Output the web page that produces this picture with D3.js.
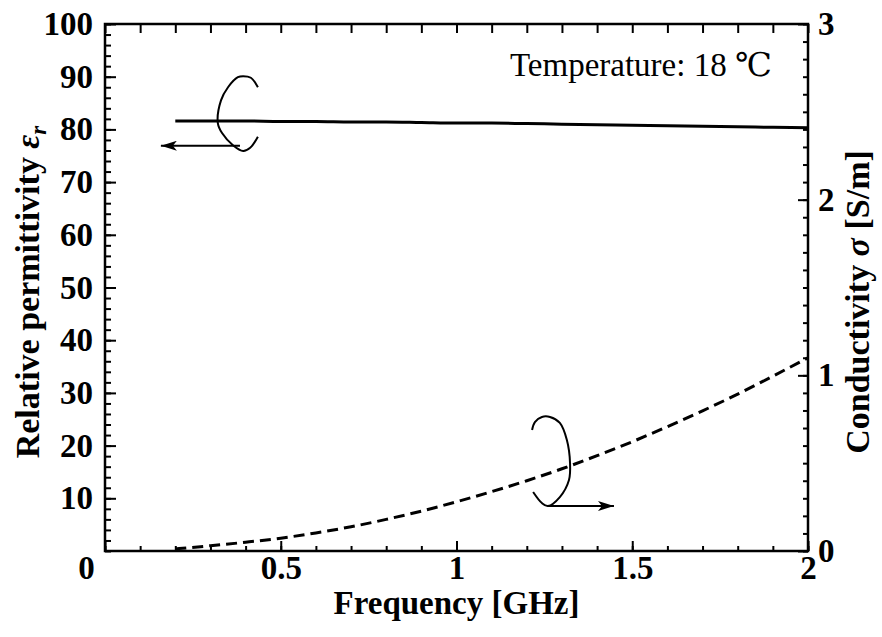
<!DOCTYPE html>
<html>
<head>
<meta charset="utf-8">
<script src="https://cdn.jsdelivr.net/npm/d3@7"></script>
<style>
  body { margin: 0; background: #fff; }
  svg text { font-family: "Liberation Serif", "DejaVu Serif", "Times New Roman", Times, serif !important; }
</style>
</head>
<body>
<div id="chart"></div>
<script>
// data
var freq = [0.2, 0.3, 0.4, 0.5, 0.6, 0.7, 0.8, 0.9, 1.0, 1.1, 1.2, 1.3, 1.4, 1.5, 1.6, 1.7, 1.8, 1.9, 2.0];
var permittivity = [81.6, 81.6, 81.6, 81.5, 81.5, 81.4, 81.4, 81.3, 81.2, 81.2, 81.1, 81.0, 80.9, 80.8, 80.7, 80.6, 80.5, 80.4, 80.3];
var conductivity = [0.012, 0.030, 0.050, 0.073, 0.103, 0.138, 0.180, 0.227, 0.280, 0.338, 0.400, 0.468, 0.543, 0.622, 0.708, 0.798, 0.893, 0.995, 1.10];

var xMajor = [0, 0.5, 1, 1.5, 2];
var xMinor = d3.range(0, 2.01, 0.1);
var leftMajor = [10, 20, 30, 40, 50, 60, 70, 80, 90, 100];
var leftMinor = d3.range(0, 100.1, 2);
var rightMajor = [0, 1, 2, 3];
var rightMinor = d3.range(0, 3.01, 0.1);

// curly arrows pointing at each axis (data units)
var arcEps = [[0.435, 88.0], [0.415, 89.8], [0.393, 90.1], [0.378, 89.9], [0.350, 88.0], [0.330, 85.5],
              [0.321, 81.2], [0.333, 79.3], [0.364, 77.0], [0.393, 75.9], [0.413, 76.5], [0.435, 78.6]];
var arrowEps = [[0.384, 76.9], [0.159, 76.9]];
var arcSig = [[1.215, 0.689], [1.223, 0.734], [1.243, 0.763], [1.266, 0.763], [1.294, 0.729], [1.314, 0.632],
              [1.323, 0.501], [1.320, 0.404], [1.294, 0.307], [1.260, 0.256], [1.243, 0.273], [1.218, 0.336]];
var arrowSig = [[1.260, 0.256], [1.448, 0.256]];

var FONT = '"Liberation Serif", "DejaVu Serif", "Times New Roman", Times, serif';
var W = 882, H = 637;
var margin = {top: 24, right: 74, bottom: 86, left: 105};

var svg = d3.select("#chart").append("svg")
    .attr("width", W)
    .attr("height", H)
    .attr("font-family", FONT);

var x = d3.scaleLinear().domain([0, 2]).range([margin.left, W - margin.right]);
var yL = d3.scaleLinear().domain([0, 100]).range([H - margin.bottom, margin.top]);
var yR = d3.scaleLinear().domain([0, 3]).range([H - margin.bottom, margin.top]);

var x0 = margin.left, x1 = W - margin.right, y0 = H - margin.bottom, y1 = margin.top;

svg.append("defs").append("marker")
    .attr("id", "head")
    .attr("viewBox", "0 0 16 10")
    .attr("refX", 16).attr("refY", 5)
    .attr("markerWidth", 16).attr("markerHeight", 10)
    .attr("markerUnits", "userSpaceOnUse")
    .attr("orient", "auto")
  .append("path")
    .attr("d", "M0,0 L16,5 L0,10 L4,5 Z")
    .attr("fill", "#000");

function styleAxis(g, fs) {
  g.attr("font-family", FONT);
  g.select(".domain").remove();
  g.selectAll(".tick line").attr("stroke", "#000").attr("stroke-width", 2);
  g.selectAll(".tick text")
    .attr("fill", "#000")
    .style("font-family", FONT)
    .style("font-size", fs + "px")
    .style("font-weight", "bold");
}

// bottom axis
svg.append("g").attr("transform", "translate(0," + y0 + ")")
  .call(d3.axisBottom(x).tickValues(xMinor).tickSize(-5).tickFormat(""))
  .call(styleAxis, 33);
var gx = svg.append("g").attr("transform", "translate(0," + y0 + ")")
  .call(d3.axisBottom(x).tickValues(xMajor).tickSize(-10).tickPadding(5).tickFormat(function(d) { return String(d); }))
  .call(styleAxis, 33);
gx.selectAll(".tick text").filter(function(d) { return d === 0; }).attr("x", -19);

// top axis
svg.append("g").attr("transform", "translate(0," + y1 + ")")
  .call(d3.axisTop(x).tickValues(xMinor).tickSize(-9).tickFormat(""))
  .call(styleAxis, 33);

// left axis
svg.append("g").attr("transform", "translate(" + x0 + ",0)")
  .call(d3.axisLeft(yL).tickValues(leftMinor).tickSize(-6).tickFormat(""))
  .call(styleAxis, 33);
svg.append("g").attr("transform", "translate(" + x0 + ",0)")
  .call(d3.axisLeft(yL).tickValues(leftMajor).tickSize(-11).tickPadding(12))
  .call(styleAxis, 33);

// right axis
svg.append("g").attr("transform", "translate(" + x1 + ",0)")
  .call(d3.axisRight(yR).tickValues(rightMinor).tickSize(-5).tickFormat(""))
  .call(styleAxis, 33);
svg.append("g").attr("transform", "translate(" + x1 + ",0)")
  .call(d3.axisRight(yR).tickValues(rightMajor).tickSize(-10).tickPadding(10).tickFormat(d3.format("d")))
  .call(styleAxis, 33);

// frame
svg.append("rect")
  .attr("x", x0).attr("y", y1)
  .attr("width", x1 - x0).attr("height", y0 - y1)
  .attr("fill", "none").attr("stroke", "#000").attr("stroke-width", 2.5);

// lines
var epsLine = d3.line().x(function(d, i) { return x(freq[i]); }).y(function(d) { return yL(d); }).curve(d3.curveMonotoneX);
var sigLine = d3.line().x(function(d, i) { return x(freq[i]); }).y(function(d) { return yR(d); }).curve(d3.curveMonotoneX);

svg.append("path").datum(permittivity)
  .attr("d", epsLine)
  .attr("fill", "none").attr("stroke", "#000").attr("stroke-width", 3);

svg.append("path").datum(conductivity)
  .attr("d", sigLine)
  .attr("fill", "none").attr("stroke", "#000").attr("stroke-width", 3)
  .attr("stroke-dasharray", "11,6");

// curly arrows
var arcL = d3.line().x(function(d) { return x(d[0]); }).y(function(d) { return yL(d[1]); }).curve(d3.curveCatmullRom);
var arcR = d3.line().x(function(d) { return x(d[0]); }).y(function(d) { return yR(d[1]); }).curve(d3.curveCatmullRom);
svg.append("path").datum(arcEps).attr("d", arcL).attr("fill", "none").attr("stroke", "#000").attr("stroke-width", 2);
svg.append("path").datum(arrowEps).attr("d", d3.line().x(function(d) { return x(d[0]); }).y(function(d) { return yL(d[1]); }))
  .attr("fill", "none").attr("stroke", "#000").attr("stroke-width", 2).attr("marker-end", "url(#head)");
svg.append("path").datum(arcSig).attr("d", arcR).attr("fill", "none").attr("stroke", "#000").attr("stroke-width", 2);
svg.append("path").datum(arrowSig).attr("d", d3.line().x(function(d) { return x(d[0]); }).y(function(d) { return yR(d[1]); }))
  .attr("fill", "none").attr("stroke", "#000").attr("stroke-width", 2).attr("marker-end", "url(#head)");

// temperature note
svg.append("text")
  .attr("x", 510).attr("y", 76)
  .style("font-family", FONT)
  .style("font-size", "33px")
  .text("Temperature: 18 \u2103");

// axis titles
svg.append("text")
  .attr("x", (x0 + x1) / 2).attr("y", 614)
  .attr("text-anchor", "middle")
  .style("font-family", FONT)
  .style("font-size", "33px").style("font-weight", "bold")
  .text("Frequency [GHz]");

var tl = svg.append("text")
  .attr("transform", "translate(39," + 292 + ") rotate(-90)")
  .attr("text-anchor", "middle")
  .style("font-family", FONT)
  .style("font-size", "34px").style("font-weight", "bold");
tl.append("tspan").text("Relative permittivity ");
tl.append("tspan").style("font-style", "italic").text("\u03b5");
tl.append("tspan").style("font-style", "italic").style("font-size", "23px").attr("dy", 7).text("r");

var tr = svg.append("text")
  .attr("transform", "translate(869," + 302 + ") rotate(-90)")
  .attr("text-anchor", "middle")
  .style("font-family", FONT)
  .style("font-size", "34px").style("font-weight", "bold");
tr.append("tspan").text("Conductivity ");
tr.append("tspan").style("font-style", "italic").text("\u03c3");
tr.append("tspan").text(" [S/m]");
</script>
</body>
</html>
